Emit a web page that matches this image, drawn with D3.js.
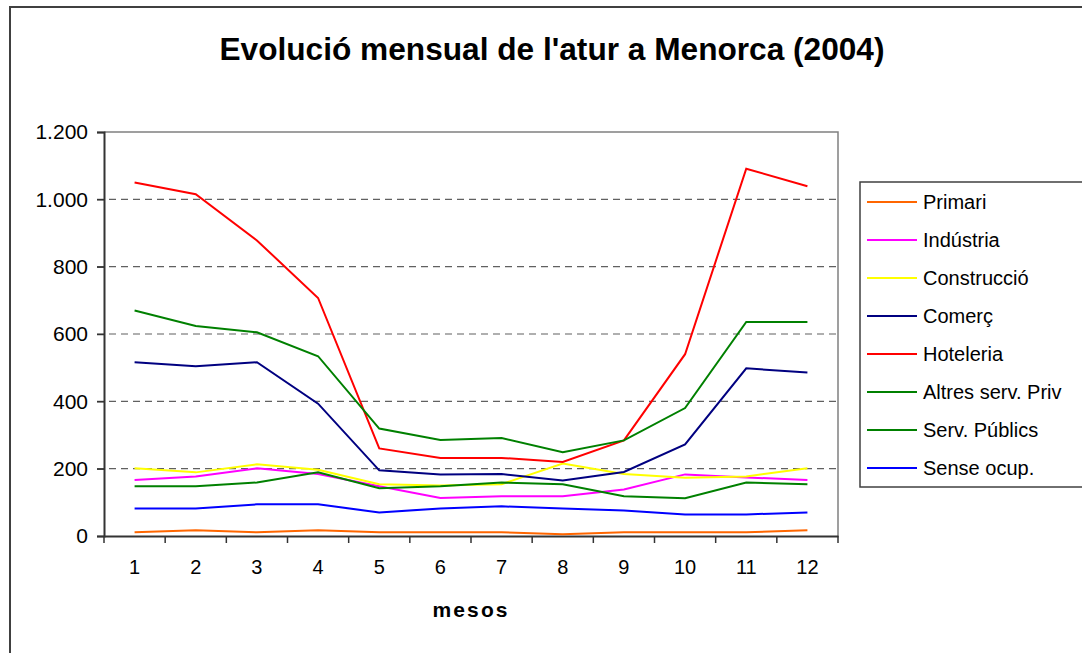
<!DOCTYPE html>
<html>
<head>
<meta charset="utf-8">
<script src="https://cdn.jsdelivr.net/npm/d3@7"></script>
<style>
  body { margin: 0; background: #fff; }
  text { font-family: Arial, "Liberation Sans", sans-serif; fill: #000; }
</style>
</head>
<body>
<div id="chart"></div>
<script>
// months on the x axis
const months = [1, 2, 3, 4, 5, 6, 7, 8, 9, 10, 11, 12];

// series values
const primari     = [11, 17, 11, 17, 11, 11, 11, 5, 11, 11, 11, 17];
const industria   = [166, 177, 201, 184, 148, 113, 118, 118, 138, 183, 174, 166];
const construccio = [201, 189, 213, 197, 154, 150, 154, 215, 184, 173, 177, 201];
const comerc      = [516, 504, 516, 393, 195, 183, 184, 165, 190, 272, 498, 486];
const hoteleria   = [1050, 1015, 878, 707, 260, 232, 232, 220, 284, 540, 1091, 1039];
const altresPriv  = [670, 624, 605, 534, 319, 285, 291, 249, 284, 380, 636, 636];
const servPublics = [148, 148, 159, 189, 142, 148, 159, 154, 118, 112, 159, 154];
const senseOcup   = [82, 82, 94, 94, 70, 82, 88, 82, 76, 64, 64, 70];

const seriesNames = ["Primari", "Indústria", "Construcció", "Comerç", "Hoteleria",
  "Altres serv. Priv", "Serv. Públics", "Sense ocup."];
const seriesColors = ["#FF6600", "#FF00FF", "#FFFF00", "#000080", "#FF0000",
  "#008000", "#008000", "#0000FF"];
const seriesValues = [primari, industria, construccio, comerc, hoteleria,
  altresPriv, servPublics, senseOcup];

const yTicks = [0, 200, 400, 600, 800, 1000, 1200];

const series = seriesNames.map((name, i) => ({
  name: name,
  color: seriesColors[i],
  values: seriesValues[i]
}));

const width = 1082, height = 653;
const margin = {top: 132, right: 244, bottom: 117, left: 104};

const svg = d3.select("#chart")
  .append("svg")
  .attr("width", width)
  .attr("height", height);

// outer chart frame
svg.append("rect")
  .attr("x", 10)
  .attr("y", 7)
  .attr("width", width + 20)
  .attr("height", height + 20)
  .attr("fill", "#fff")
  .attr("stroke", "#404040")
  .attr("stroke-width", 2);

const x = d3.scaleBand()
  .domain(months)
  .range([margin.left, width - margin.right]);

const y = d3.scaleLinear()
  .domain([0, 1200])
  .range([height - margin.bottom, margin.top]);

const locale = d3.formatLocale({decimal: ",", thousands: ".", grouping: [3], currency: ["", ""]});
const fmt = locale.format(",d");

// title
svg.append("text")
  .attr("x", 552)
  .attr("y", 60)
  .attr("text-anchor", "middle")
  .attr("textLength", 665)
  .attr("lengthAdjust", "spacingAndGlyphs")
  .style("font-size", "31px")
  .style("font-weight", "bold")
  .text("Evolució mensual de l'atur a Menorca (2004)");

// gridlines
svg.append("g")
  .selectAll("line")
  .data(yTicks.filter(d => d > 0 && d < 1200))
  .enter().append("line")
  .attr("x1", margin.left - 7)
  .attr("x2", width - margin.right)
  .attr("y1", d => y(d))
  .attr("y2", d => y(d))
  .attr("stroke", "#606060")
  .attr("stroke-width", 1.2)
  .attr("stroke-dasharray", "7,5");

// plot area top and right border
svg.append("path")
  .attr("d", `M${margin.left},${y(1200)}H${width - margin.right}V${y(0)}`)
  .attr("fill", "none")
  .attr("stroke", "#808080")
  .attr("stroke-width", 1.5);

// y axis
const yAxis = svg.append("g")
  .attr("transform", `translate(${margin.left},0)`)
  .call(d3.axisLeft(y).tickValues(yTicks).tickFormat(fmt).tickSize(7).tickPadding(9));

// x axis
const xAxis = svg.append("g")
  .attr("transform", `translate(0,${y(0)})`)
  .call(d3.axisBottom(x).tickSize(0).tickPadding(24));

// x ticks sit between the categories
xAxis.selectAll(".between")
  .data(d3.range(months.length + 1))
  .enter().append("line")
  .attr("class", "between")
  .attr("x1", i => margin.left + i * x.bandwidth())
  .attr("x2", i => margin.left + i * x.bandwidth())
  .attr("y1", 0)
  .attr("y2", 7)
  .attr("stroke", "#333")
  .attr("stroke-width", 1.5);

[yAxis, xAxis].forEach(g => {
  g.select(".domain").attr("stroke", "#333").attr("stroke-width", 2);
  g.selectAll(".tick line").attr("stroke", "#333").attr("stroke-width", 1.5);
  g.selectAll(".tick text")
    .style("font-size", "20px")
    .style("font-family", "Arial, 'Liberation Sans', sans-serif")
    .attr("fill", "#000");
});
yAxis.selectAll(".tick text").style("font-size", "21px");

// x axis title
svg.append("text")
  .attr("x", 470)
  .attr("y", 617)
  .attr("text-anchor", "middle")
  .attr("textLength", 75)
  .attr("lengthAdjust", "spacing")
  .style("font-size", "21px")
  .style("font-weight", "bold")
  .text("mesos");

// lines
const line = d3.line()
  .x((d, i) => x(months[i]) + x.bandwidth() / 2)
  .y(d => y(d));

svg.append("g")
  .selectAll("path")
  .data(series)
  .enter().append("path")
  .attr("d", d => line(d.values))
  .attr("fill", "none")
  .attr("stroke", d => d.color)
  .attr("stroke-width", 2);

// legend
const legend = svg.append("g")
  .attr("transform", "translate(860,182)");

legend.append("rect")
  .attr("x", 0)
  .attr("y", 0)
  .attr("width", 260)
  .attr("height", 305)
  .attr("fill", "#fff")
  .attr("stroke", "#404040")
  .attr("stroke-width", 1.5);

const item = legend.selectAll(".item")
  .data(series)
  .enter().append("g")
  .attr("class", "item")
  .attr("transform", (d, i) => `translate(0,${20 + i * 38})`);

item.append("line")
  .attr("x1", 7)
  .attr("x2", 57)
  .attr("stroke", d => d.color)
  .attr("stroke-width", 2);

item.append("text")
  .attr("x", 63)
  .attr("y", 7)
  .style("font-size", "20px")
  .text(d => d.name);
</script>
</body>
</html>
